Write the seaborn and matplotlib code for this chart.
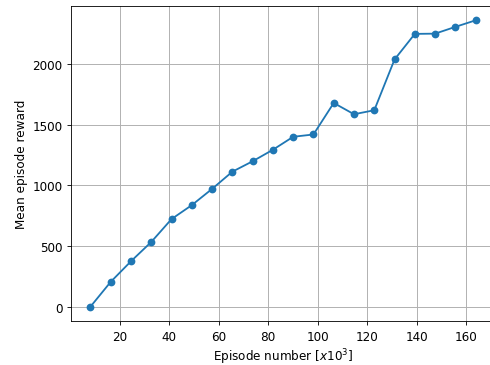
import matplotlib
matplotlib.use("Agg")
import matplotlib.pyplot as plt
import seaborn as sns
import pandas as pd

# Training progress: episodes (thousands) vs mean reward
episodes_k = [8.192, 16.384, 24.576, 32.768, 40.96, 49.152, 57.344, 65.536,
              73.728, 81.92, 90.112, 98.304, 106.496, 114.688, 122.88,
              131.072, 139.264, 147.456, 155.648, 163.84]
mean_reward = [0, 205, 375, 534, 723, 838, 972, 1114, 1200, 1295, 1402,
               1421, 1681, 1588, 1621, 2040, 2251, 2253, 2309, 2363]

df = pd.DataFrame({"episode": episodes_k, "reward": mean_reward})

plt.rcParams.update({
    "font.size": 11.3,
    "xtick.major.size": 4,
    "ytick.major.size": 4,
    "xtick.major.pad": 4,
    "ytick.major.pad": 4,
})

DPI = 76.5625
W, H = 490, 366
fig = plt.figure(figsize=(W / DPI, H / DPI), dpi=DPI)
ax = fig.add_axes([71.2 / W, 1 - 322 / H, (494.9 - 71.2) / W, (322 - 7) / H])

sns.lineplot(data=df, x="episode", y="reward", ax=ax, marker="o",
             markersize=7.3, markeredgewidth=0, color="#1f77b4", linewidth=1.7)

ax.grid(True, color="#b0b0b0", linewidth=0.9)
ax.set_axisbelow(True)
ax.set_xlabel(r"Episode number [$x10^3$]")
ax.set_ylabel("Mean episode reward")
ax.set_xticks([20, 40, 60, 80, 100, 120, 140, 160])
ax.set_yticks([0, 500, 1000, 1500, 2000])

fig.savefig("out.png", dpi=DPI)
